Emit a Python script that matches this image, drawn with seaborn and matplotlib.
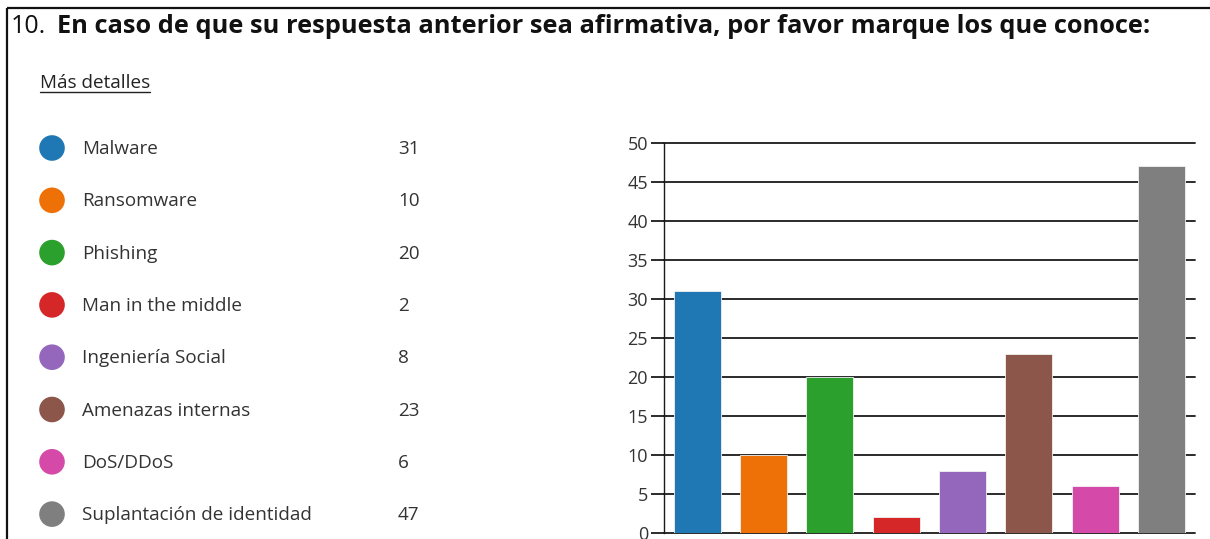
import matplotlib
matplotlib.use("Agg")
import matplotlib.pyplot as plt
import seaborn as sns
import pandas as pd

# ---------------------------------------------------
# Data
# ---------------------------------------------------
question_num = "10."
question = "En caso de que su respuesta anterior sea afirmativa, por favor marque los que conoce:"
details_label = "Más detalles"

categories = ["Malware", "Ransomware", "Phishing", "Man in the middle",
              "Ingeniería Social", "Amenazas internas", "DoS/DDoS",
              "Suplantación de identidad"]
counts = [31, 10, 20, 2, 8, 23, 6, 47]
colors = ["#1F77B4", "#ED7106", "#2CA02C", "#D62728",
          "#9467BD", "#8C564B", "#D54AA9", "#7F7F7F"]
y_ticks = [0, 5, 10, 15, 20, 25, 30, 35, 40, 45, 50]

df = pd.DataFrame({"category": categories, "count": counts})

# ---------------------------------------------------
# Figure setup
# ---------------------------------------------------
sns.set_style("white")
plt.rcParams["font.family"] = ["Open Sans", "DejaVu Sans"]

W, H, DPI = 1210, 539, 100
fig = plt.figure(figsize=(W / DPI, H / DPI), dpi=DPI)

# background axes in pixel coordinates
bg = fig.add_axes([0, 0, 1, 1])
bg.set_xlim(0, W)
bg.set_ylim(H, 0)
bg.axis("off")

# card border (top and left)
bg.plot([7, W], [8, 8], color="#111111", lw=1.6, solid_capstyle="butt")
bg.plot([7, 7], [8, H], color="#111111", lw=1.6, solid_capstyle="butt")

# question title
bg.text(11, 33, question_num, fontsize=18, color="#111111", va="baseline")
bg.text(57, 33, question, fontsize=18.3, fontweight="bold", color="#111111",
        va="baseline")

# "Más detalles" link, underlined
link = bg.text(40, 88, details_label, fontsize=13.6, color="#222222",
               va="baseline")
fig.canvas.draw()
bb = link.get_window_extent().transformed(bg.transData.inverted())
bg.plot([bb.x0, bb.x1], [92, 92], color="#222222", lw=1.0)

# legend list with counts
row0, row_step = 148, 52.3
for i, (cat, val, col) in enumerate(zip(categories, counts, colors)):
    y = row0 + row_step * i
    bg.scatter(52, y, s=340, color=col, edgecolors="none")
    bg.text(82, y + 1, cat, fontsize=13.6, color="#333333", va="center")
    bg.text(398, y + 1, str(val), fontsize=13.6, color="#333333", va="center")

# ---------------------------------------------------
# Bar chart
# ---------------------------------------------------
ax_left, ax_right = 664, 1194.6
ax_top, ax_bottom = 143, 533
ax = fig.add_axes([ax_left / W, 1 - ax_bottom / H,
                   (ax_right - ax_left) / W, (ax_bottom - ax_top) / H])
ax.patch.set_alpha(0)

sns.barplot(data=df, x="category", y="count", hue="category",
            palette=colors, legend=False, width=0.71, saturation=1,
            edgecolor="#f2f2f2", linewidth=0.6, ax=ax)

ax.set_xlim(-0.5, len(categories) - 0.5)
ax.set_ylim(0, 50)
ax.set_yticks(y_ticks)
ax.set_xticks([])
ax.set_xlabel("")
ax.set_ylabel("")

ax.yaxis.grid(True, color="#1a1a1a", lw=1.3)
ax.set_axisbelow(True)
for gl in ax.get_ygridlines():
    gl.set_clip_on(False)

ax.tick_params(axis="y", length=9.5, width=1.3, color="#1a1a1a",
               labelsize=13, labelcolor="#333333", pad=2, left=True)

for side in ["top", "right", "bottom"]:
    ax.spines[side].set_visible(False)
ax.spines["left"].set_color("#1a1a1a")
ax.spines["left"].set_linewidth(1.0)

fig.savefig("out.png", dpi=DPI)
